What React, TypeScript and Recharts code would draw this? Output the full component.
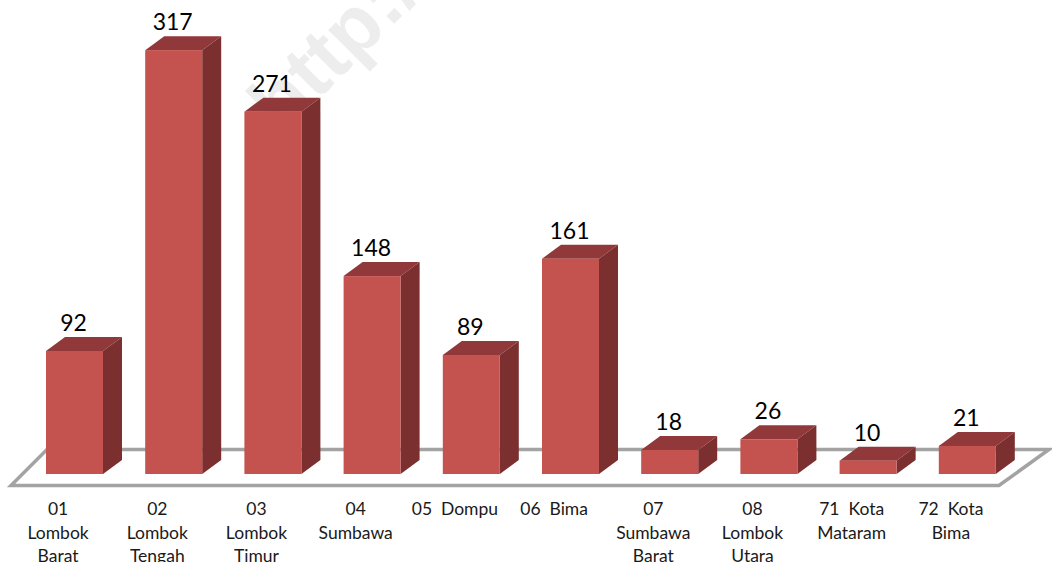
import React from 'react';
import { BarChart, Bar, XAxis, YAxis, LabelList, Customized } from 'recharts';

const categories = [
  '01\nLombok\nBarat',
  '02\nLombok\nTengah',
  '03\nLombok\nTimur',
  '04\nSumbawa',
  '05  Dompu',
  '06  Bima',
  '07\nSumbawa\nBarat',
  '08\nLombok\nUtara',
  '71  Kota\nMataram',
  '72  Kota\nBima',
];
const values = [92, 317, 271, 148, 89, 161, 18, 26, 10, 21];

const data = categories.map((name, i) => ({ name, value: values[i] }));

const FONT = 'Lato, "Open Sans", sans-serif';
const DX = 19;
const DY = 14;

// front, top and side faces of one box
const Box3D = (props: any) => {
  const { x, y, width, height } = props;
  return (
    <g>
      <polygon points={`${x},${y} ${x + DX},${y - DY} ${x + width + DX},${y - DY} ${x + width},${y}`} fill="#91393a" />
      <polygon points={`${x + width},${y} ${x + width + DX},${y - DY} ${x + width + DX},${y + height - DY} ${x + width},${y + height}`} fill="#7c2f2f" />
      <rect x={x} y={y} width={width} height={height} fill="#c4524e" />
    </g>
  );
};

const CategoryTick = (props: any) => {
  const { x, y, payload } = props;
  const lines = String(payload.value).split('\n');
  return (
    <text textAnchor="middle" fontFamily={FONT} fontSize={17.5} fill="#1a1a1a" style={{ whiteSpace: 'pre' }}>
      {lines.map((line, i) => (
        <tspan key={i} x={x - 16.5} y={y + 33 + i * 23.5}>{line}</tspan>
      ))}
    </text>
  );
};

// grey floor the boxes stand on
const Floor = () => (
  <polygon points="11,485.5 999,485.5 1049,449.5 47,449.5" fill="none" stroke="#a3a3a3" strokeWidth={3.5} />
);

const Watermark = () => (
  <text
    x={0}
    y={0}
    transform="translate(282,136) rotate(-45)"
    fontFamily='"Liberation Sans", sans-serif'
    fontWeight="bold"
    fontSize={80}
    fill="#dcdcdc"
    fillOpacity={0.5}
  >
    http://
  </text>
);

export default function App() {
  return (
    <div style={{ position: 'fixed', left: 0, top: 0, width: 1052, height: 562, overflow: 'hidden', background: '#fff' }}>
      <BarChart width={1052} height={562} data={data} margin={{ top: 6, right: 35, bottom: 0, left: 25 }}>
        <Customized component={Floor} />
        <XAxis dataKey="name" axisLine={false} tickLine={false} tick={CategoryTick} interval={0} height={88} />
        <YAxis hide domain={[0, 350]} />
        <Bar dataKey="value" barSize={57} shape={Box3D} isAnimationActive={false}>
          <LabelList dataKey="value" position="top" offset={20} dx={-1} fontSize={23} fontFamily={FONT} fill="#000" />
        </Bar>
        <Customized component={Watermark} />
      </BarChart>
    </div>
  );
}
